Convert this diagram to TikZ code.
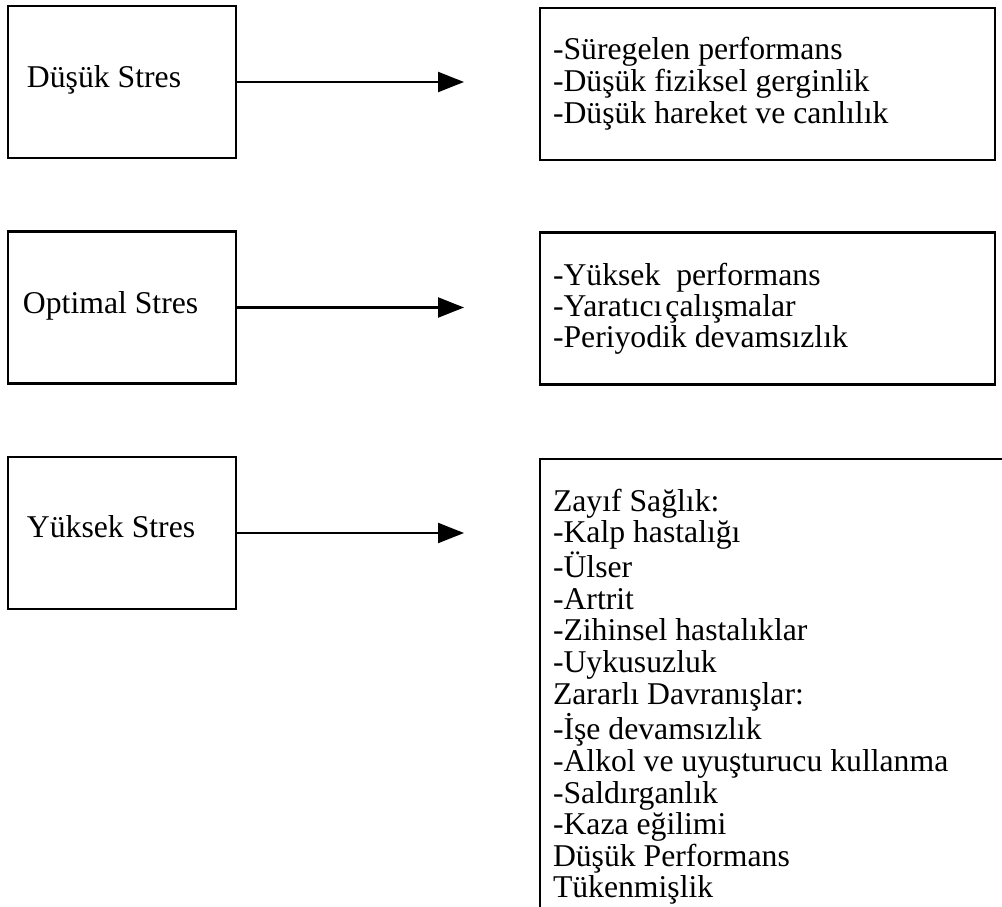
\documentclass[tikz,border=0pt]{standalone}
\usepackage{fontspec}
\setmainfont{Liberation Serif}
\usetikzlibrary{arrows.meta}

\begin{document}
\begin{tikzpicture}[x=1pt, y=-1pt,
  every node/.style={inner sep=0pt, outer sep=0pt},
  frame/.style={draw, line width=2.2pt, rectangle},
  levelbox/.style={frame, minimum width=228pt, minimum height=152pt},
  effectbox/.style={frame, minimum width=455pt, minimum height=152pt},
  boxtext/.style={anchor=base west, font=\fontsize{31.7}{31.5}\selectfont},
  link/.style={line width=2.2pt, -{Triangle[length=26pt, width=20pt]}},
  edge/.style={line width=2.2pt}
]
\useasboundingbox (0,0) rectangle (1002,907);

% stress levels on the left
\node[levelbox] (low)  at (122,82)  {};
\node[levelbox] (opt)  at (122,307.5) {};
\node[levelbox] (high) at (122,533) {};
\node[boxtext] (lowt)  at (27,88)  {Düşük Stres};
\node[boxtext] (optt)  at (23,313) {Optimal Stres};
\node[boxtext] (hight) at (27,537) {Yüksek Stres};

% outcomes on the right
\node[effectbox] (lowfx) at (767.5,84) {};
\node[effectbox] (optfx) at (767.5,308.5) {};
\coordinate (hfxtl) at (540,459);
\coordinate (hfxtr) at (1002,459);
\coordinate (hfxbl) at (540,907);
\draw[edge] (hfxtr) -- (hfxtl) -- (hfxbl);

\node[boxtext] (lowfxt) at (553,60) {\begin{tabular}[t]{@{}l@{}}
-Süregelen performans\\
-Düşük fiziksel gerginlik\\
-Düşük hareket ve canlılık
\end{tabular}};
\node[boxtext, font=\fontsize{31.7}{30.7}\selectfont] (optfxt) at (553,285) {\begin{tabular}[t]{@{}l@{}}
-Yüksek\ \ performans\\
-Yaratıcı\hspace{3pt}çalışmalar\\
-Periyodik devamsızlık
\end{tabular}};
\node[boxtext, font=\fontsize{31.7}{31.6}\selectfont] (highfxt) at (553,511) {\begin{tabular}[t]{@{}l@{}}
Zayıf Sağlık:\\
-Kalp hastalığı\\
-Ülser\\
-Artrit\\
-Zihinsel hastalıklar\\
-Uykusuzluk\\
Zararlı Davranışlar:\\
-İşe devamsızlık\\
-Alkol ve uyuşturucu kullanma\\
-Saldırganlık\\
-Kaza eğilimi\\
Düşük Performans\\
Tükenmişlik
\end{tabular}};

% arrows
\coordinate (lowtip)  at (464,82);
\coordinate (opttip)  at (464,307.5);
\coordinate (hightip) at (464,533);
\draw[link] (low.east)  -- (lowtip);
\draw[link] (opt.east)  -- (opttip);
\draw[link] (high.east) -- (hightip);
\end{tikzpicture}
\end{document}
